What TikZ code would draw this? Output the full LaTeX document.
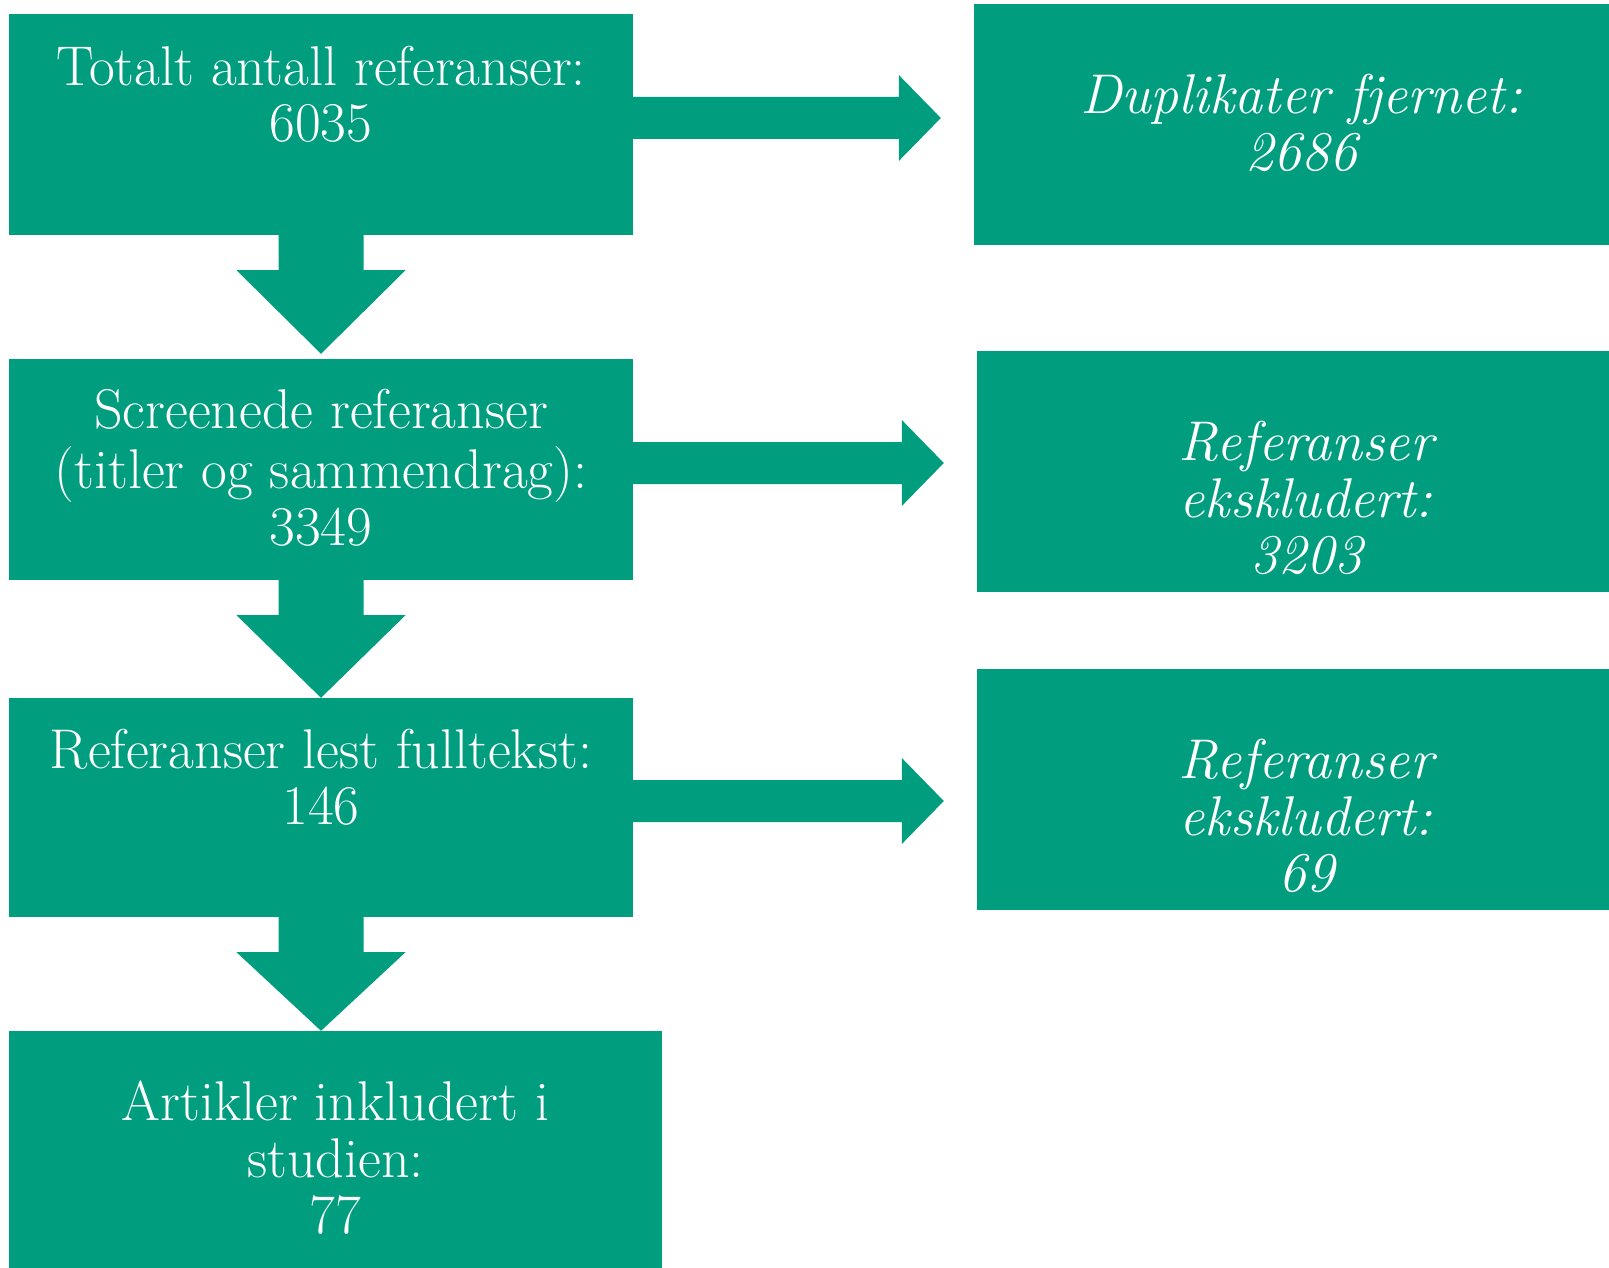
\documentclass[tikz,border=0pt]{standalone}
\usepackage{fontspec}
\usetikzlibrary{calc}
\definecolor{flowgreen}{RGB}{0,158,127}
% first-line strut with extra height: moves the text block down a little
\newcommand\firststrut{\rule[-0.3\baselineskip]{0pt}{\dimexpr 0.7\baselineskip+29pt\relax}}
% block arrow pointing down from node #1 to node #2, tip #3 pt above #2
\newcommand\flowdown[3]{%
  \fill[flowgreen] ($(#1.south)+(-42.5,0)$) -- ($(#1.south)+(42.5,0)$)
    -- ($(#1.south)+(42.5,35)$) -- ($(#1.south)+(84.5,35)$)
    -- ($(#2.north -| #1.south)+(0,-#3)$)
    -- ($(#1.south)+(-84.5,35)$) -- ($(#1.south)+(-42.5,35)$) -- cycle;}
% block arrow pointing right from node #1 towards node #2
\newcommand\flowright[2]{%
  \fill[flowgreen] ($(#1.east)+(0,-27.5)$) -- ($(#1.east -| #2.west)+(-75,-27.5)$)
    -- ($(#1.east -| #2.west)+(-75,-49.5)$) -- ($(#1.east -| #2.west)+(-33,-6.5)$)
    -- ($(#1.east -| #2.west)+(-75,36.5)$) -- ($(#1.east -| #2.west)+(-75,14.5)$)
    -- ($(#1.east)+(0,14.5)$) -- cycle;}
\begin{document}
\begin{tikzpicture}[x=1pt,y=-1pt,
  box/.style={fill=flowgreen, text=white, align=center, inner sep=0pt,
    font=\fontsize{56}{56.5}\selectfont},
  sidebox/.style={box, font=\fontsize{56}{56.5}\selectfont\itshape}]
\useasboundingbox (0,0) rectangle (1609,1268);
\clip (0,0) rectangle (1609,1268);
\fill[white] (0,0) rectangle (1609,1268);
\node[box, minimum width=624pt, minimum height=221pt] (b1) at (321,124.5)
  {\firststrut Totalt antall referanser:\\\strut 6035\\\strut};
\node[box, minimum width=624pt, minimum height=221pt] (b2) at (321,469.5)
  {\firststrut Screenede referanser\\\strut (titler og sammendrag):\\\strut 3349};
\node[box, minimum width=624pt, minimum height=219pt] (b3) at (321,807.5)
  {\firststrut Referanser lest fulltekst:\\\strut 146\\\strut};
\node[box, minimum width=653pt, minimum height=258pt] (b4) at (335.5,1160)
  {\firststrut Artikler inkludert i\\\strut studien:\\\strut 77};
\node[sidebox, minimum width=654pt, minimum height=241pt] (r1) at (1301,124.5)
  {\firststrut Duplikater fjernet:\\\strut 2686};
\node[sidebox, minimum width=658pt, minimum height=241pt] (r2) at (1306,471.5)
  {\firststrut\\\strut Referanser\\\strut ekskludert:\\\strut 3203};
\node[sidebox, minimum width=658pt, minimum height=241pt] (r3) at (1306,789.5)
  {\firststrut\\\strut Referanser\\\strut ekskludert:\\\strut 69};
\flowdown{b1}{b2}{5}
\flowdown{b2}{b3}{0}
\flowdown{b3}{b4}{0}
\flowright{b1}{r1}
\flowright{b2}{r2}
\flowright{b3}{r3}
\end{tikzpicture}
\end{document}
